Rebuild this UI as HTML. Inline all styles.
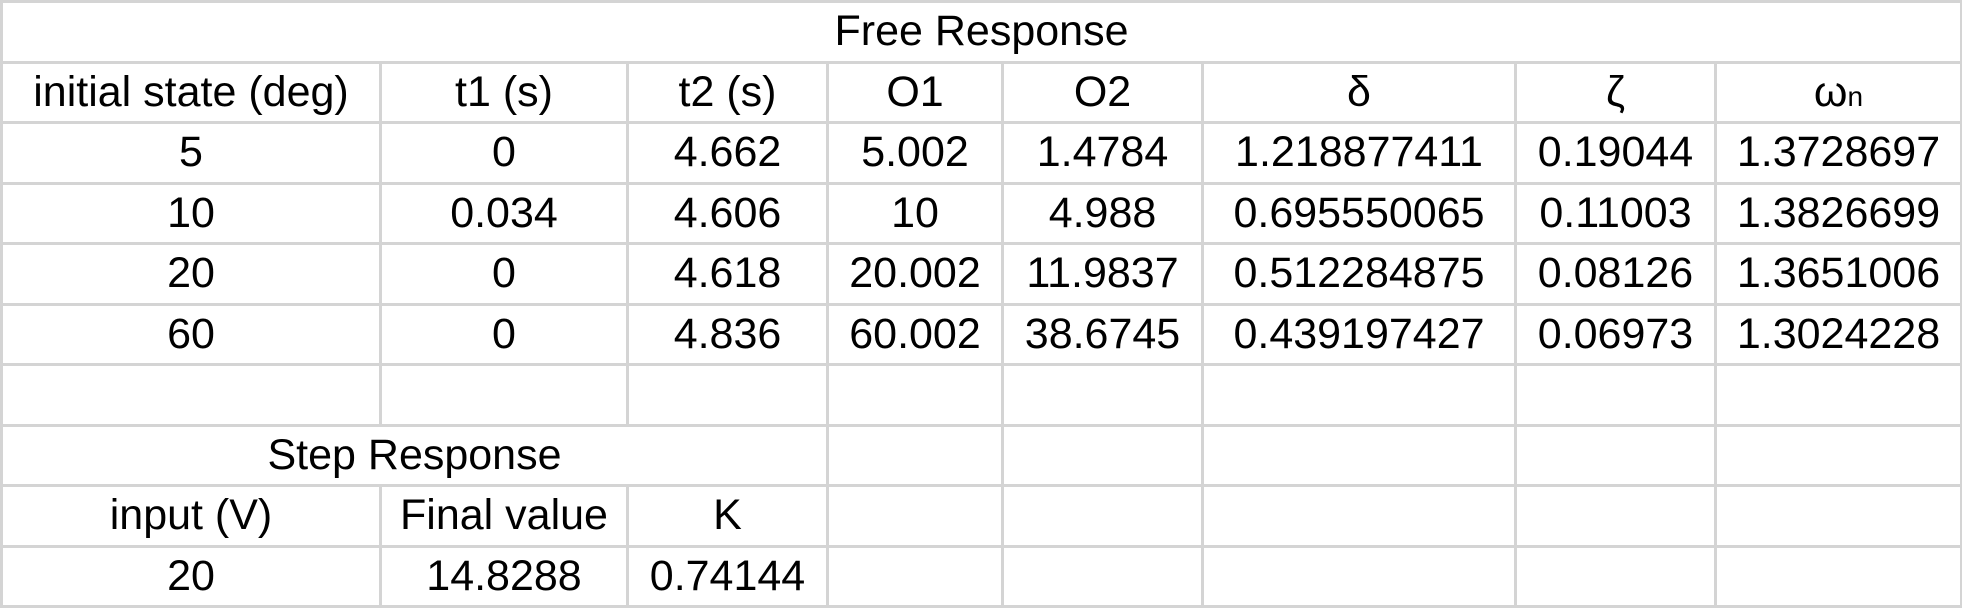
<!DOCTYPE html>
<html><head><meta charset="utf-8">
<style>
html,body{margin:0;padding:0;background:#fff;width:1962px;height:607px;overflow:hidden}
table{border-collapse:collapse;table-layout:fixed;width:1960px;position:absolute;left:0;top:0}
td{border:3px solid #d4d4d4;height:57.5px;padding:0;text-align:center;vertical-align:middle;
font-family:"Liberation Sans",sans-serif;font-size:43px;color:#000;white-space:nowrap;overflow:hidden}
</style></head><body>
<table>
<colgroup><col style="width:379px"><col style="width:247px"><col style="width:200px"><col style="width:175px"><col style="width:200px"><col style="width:313px"><col style="width:200px"><col style="width:246px"></colgroup>
<tr><td colspan="8">Free Response</td></tr>
<tr>
<td>initial state (deg)</td>
<td>t1 (s)</td>
<td>t2 (s)</td>
<td>O1</td>
<td>O2</td>
<td>δ</td>
<td>ζ</td>
<td>ω<span style="font-size:28px">n</span></td></tr>
<tr><td>5</td><td>0</td><td>4.662</td><td>5.002</td><td>1.4784</td><td>1.218877411</td><td>0.19044</td><td>1.3728697</td></tr>
<tr><td>10</td><td>0.034</td><td>4.606</td><td>10</td><td>4.988</td><td>0.695550065</td><td>0.11003</td><td>1.3826699</td></tr>
<tr><td>20</td><td>0</td><td>4.618</td><td>20.002</td><td>11.9837</td><td>0.512284875</td><td>0.08126</td><td>1.3651006</td></tr>
<tr><td>60</td><td>0</td><td>4.836</td><td>60.002</td><td>38.6745</td><td>0.439197427</td><td>0.06973</td><td>1.3024228</td></tr>
<tr><td></td><td></td><td></td><td></td><td></td><td></td><td></td><td></td></tr>
<tr><td colspan="3">Step Response</td><td></td><td></td><td></td><td></td><td></td></tr>
<tr><td>input (V)</td><td>Final value</td><td>K</td><td></td><td></td><td></td><td></td><td></td></tr>
<tr><td>20</td><td>14.8288</td><td>0.74144</td><td></td><td></td><td></td><td></td><td></td></tr>
</table>
</body></html>
